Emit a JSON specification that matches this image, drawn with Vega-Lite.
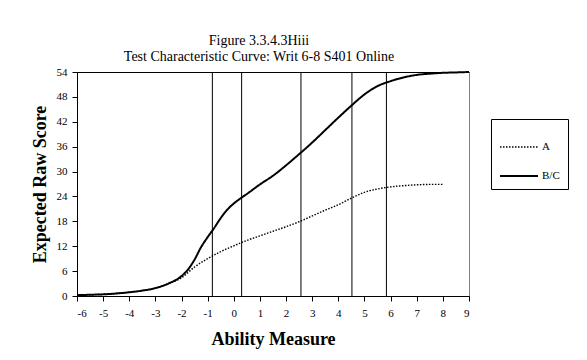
{
  "$schema": "https://vega.github.io/schema/vega-lite/v6.json",
  "width": 392,
  "height": 224,
  "autosize": "none",
  "padding": {"left": 77, "top": 72, "right": 118, "bottom": 64},
  "background": "white",
  "title": {
    "text": ["Figure  3.3.4.3Hiii", "Test Characteristic  Curve:  Writ 6-8 S401 Online"],
    "font": "Liberation Serif",
    "fontSize": 14,
    "fontWeight": "normal",
    "lineHeight": 16,
    "offset": 2,
    "dx": -14,
    "anchor": "middle",
    "color": "black"
  },
  "datasets": {
    "cuts": [
      {"cut": -0.82},
      {"cut": 0.30},
      {"cut": 2.57},
      {"cut": 4.52},
      {"cut": 5.84}
    ],
    "curves": [
      {"theta": -6, "score": 0.2, "form": "A"},
      {"theta": -5.5, "score": 0.3, "form": "A"},
      {"theta": -5, "score": 0.4, "form": "A"},
      {"theta": -4.5, "score": 0.6, "form": "A"},
      {"theta": -4, "score": 0.9, "form": "A"},
      {"theta": -3.5, "score": 1.3, "form": "A"},
      {"theta": -3, "score": 1.9, "form": "A"},
      {"theta": -2.5, "score": 3.0, "form": "A"},
      {"theta": -2, "score": 4.4, "form": "A"},
      {"theta": -1.5, "score": 7.0, "form": "A"},
      {"theta": -1, "score": 9.0, "form": "A"},
      {"theta": -0.5, "score": 10.7, "form": "A"},
      {"theta": 0, "score": 12.1, "form": "A"},
      {"theta": 0.5, "score": 13.4, "form": "A"},
      {"theta": 1, "score": 14.5, "form": "A"},
      {"theta": 1.5, "score": 15.6, "form": "A"},
      {"theta": 2, "score": 16.7, "form": "A"},
      {"theta": 2.5, "score": 17.9, "form": "A"},
      {"theta": 3, "score": 19.3, "form": "A"},
      {"theta": 3.5, "score": 20.7, "form": "A"},
      {"theta": 4, "score": 22.0, "form": "A"},
      {"theta": 4.5, "score": 23.6, "form": "A"},
      {"theta": 5, "score": 25.0, "form": "A"},
      {"theta": 5.5, "score": 25.8, "form": "A"},
      {"theta": 6, "score": 26.3, "form": "A"},
      {"theta": 6.5, "score": 26.6, "form": "A"},
      {"theta": 7, "score": 26.8, "form": "A"},
      {"theta": 7.5, "score": 26.9, "form": "A"},
      {"theta": 8, "score": 26.9, "form": "A"},
      {"theta": -6, "score": 0.2, "form": "B/C"},
      {"theta": -5.5, "score": 0.3, "form": "B/C"},
      {"theta": -5, "score": 0.4, "form": "B/C"},
      {"theta": -4.5, "score": 0.6, "form": "B/C"},
      {"theta": -4, "score": 0.9, "form": "B/C"},
      {"theta": -3.5, "score": 1.3, "form": "B/C"},
      {"theta": -3, "score": 1.9, "form": "B/C"},
      {"theta": -2.5, "score": 3.0, "form": "B/C"},
      {"theta": -2, "score": 4.8, "form": "B/C"},
      {"theta": -1.75, "score": 6.4, "form": "B/C"},
      {"theta": -1.5, "score": 8.8, "form": "B/C"},
      {"theta": -1.25, "score": 11.8, "form": "B/C"},
      {"theta": -1, "score": 14.2, "form": "B/C"},
      {"theta": -0.75, "score": 16.4, "form": "B/C"},
      {"theta": -0.5, "score": 18.8, "form": "B/C"},
      {"theta": -0.25, "score": 20.8, "form": "B/C"},
      {"theta": 0, "score": 22.3, "form": "B/C"},
      {"theta": 0.25, "score": 23.5, "form": "B/C"},
      {"theta": 0.5, "score": 24.6, "form": "B/C"},
      {"theta": 1, "score": 26.9, "form": "B/C"},
      {"theta": 1.5, "score": 29.0, "form": "B/C"},
      {"theta": 2, "score": 31.5, "form": "B/C"},
      {"theta": 2.5, "score": 34.2, "form": "B/C"},
      {"theta": 3, "score": 37.0, "form": "B/C"},
      {"theta": 3.5, "score": 40.0, "form": "B/C"},
      {"theta": 4, "score": 43.0, "form": "B/C"},
      {"theta": 4.5, "score": 45.9, "form": "B/C"},
      {"theta": 5, "score": 48.6, "form": "B/C"},
      {"theta": 5.5, "score": 50.6, "form": "B/C"},
      {"theta": 6, "score": 51.8, "form": "B/C"},
      {"theta": 6.5, "score": 52.7, "form": "B/C"},
      {"theta": 7, "score": 53.3, "form": "B/C"},
      {"theta": 7.5, "score": 53.6, "form": "B/C"},
      {"theta": 8, "score": 53.8, "form": "B/C"},
      {"theta": 8.5, "score": 53.9, "form": "B/C"},
      {"theta": 9, "score": 54.0, "form": "B/C"}
    ]
  },
  "layer": [
    {
      "data": {"name": "cuts"},
      "mark": {"type": "rule", "color": "black", "strokeWidth": 1},
      "encoding": {
        "x": {
          "field": "cut",
          "type": "quantitative",
          "scale": {"domain": [-6, 9], "nice": false, "zero": false},
          "axis": {"orient": "top", "labels": false, "ticks": false, "title": null, "grid": false, "domainColor": "black", "domainWidth": 1}
        }
      }
    },
    {
      "data": {"name": "curves"},
      "mark": {"type": "line", "interpolate": "monotone", "color": "black"},
      "encoding": {
        "x": {
          "field": "theta",
          "type": "quantitative",
          "scale": {"domain": [-6, 9], "nice": false, "zero": false},
          "axis": {
            "title": "Ability  Measure",
            "values": [-6, -5, -4, -3, -2, -1, 0, 1, 2, 3, 4, 5, 6, 7, 8, 9],
            "labelExpr": "'' + datum.value",
            "grid": false,
            "domainColor": "black",
            "tickColor": "black",
            "tickSize": 5,
            "labelPadding": 6,
            "labelFontSize": 11,
            "titleFontSize": 18,
            "titlePadding": 12
          }
        },
        "y": {
          "field": "score",
          "type": "quantitative",
          "scale": {"domain": [0, 54], "nice": false},
          "axis": {
            "title": "Expected Raw Score",
            "values": [0, 6, 12, 18, 24, 30, 36, 42, 48, 54],
            "grid": false,
            "domainColor": "black",
            "tickColor": "black",
            "tickSize": 5,
            "labelPadding": 5,
            "labelFontSize": 11,
            "titleFontSize": 18,
            "titlePadding": 7
          }
        },
        "strokeDash": {
          "field": "form",
          "type": "nominal",
          "scale": {"domain": ["A", "B/C"], "range": [[1.5, 1.5], [1, 0]]},
          "legend": {"title": null}
        },
        "strokeWidth": {
          "field": "form",
          "type": "nominal",
          "scale": {"domain": ["A", "B/C"], "range": [1.4, 2]},
          "legend": {"title": null}
        }
      }
    }
  ],
  "resolve": {"axis": {"x": "independent"}},
  "config": {
    "font": "Liberation Serif",
    "view": {"stroke": "#808080", "strokeWidth": 1},
    "axis": {
      "labelFont": "Liberation Serif",
      "titleFont": "Liberation Serif",
      "labelColor": "black",
      "titleColor": "black",
      "titleFontWeight": "bold",
      "domainWidth": 1,
      "tickWidth": 1
    },
    "legend": {
      "orient": "none",
      "legendX": 414,
      "legendY": 47,
      "strokeColor": "black",
      "fillColor": "white",
      "padding": 8,
      "labelFont": "Liberation Serif",
      "labelFontSize": 11,
      "labelColor": "black",
      "labelExpr": "datum.label + '       '",
      "symbolType": "stroke",
      "symbolSize": 1444,
      "symbolStrokeColor": "black",
      "labelOffset": 3,
      "rowPadding": 4
    }
  }
}
